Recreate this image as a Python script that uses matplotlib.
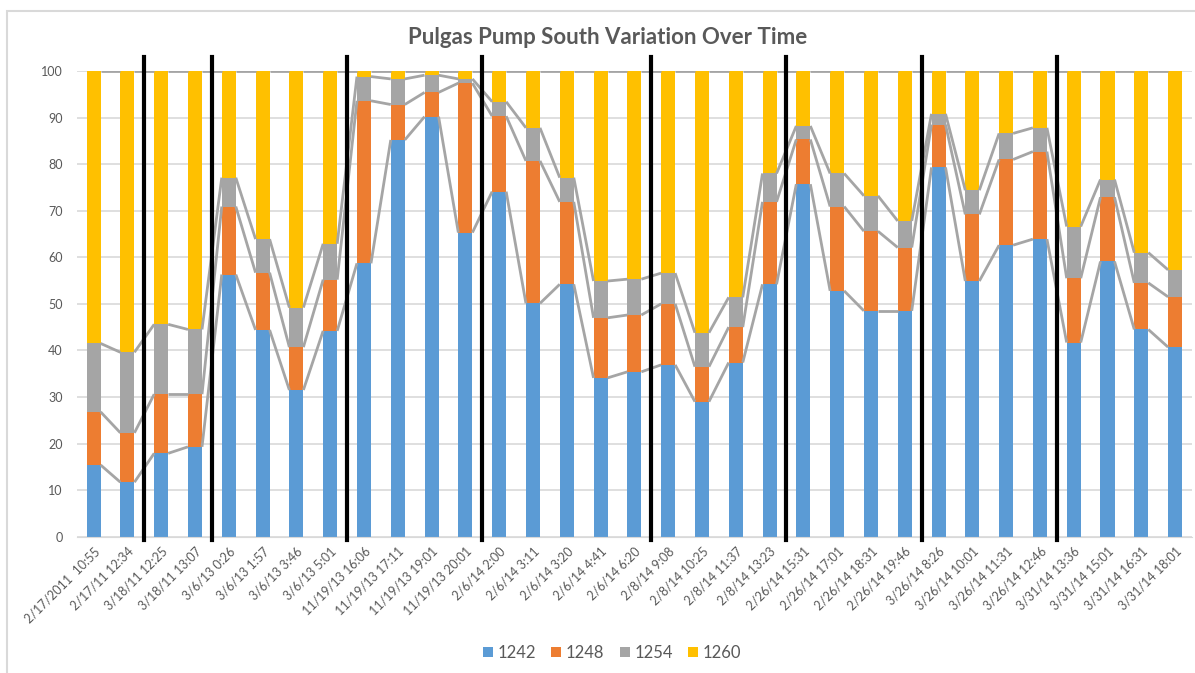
import matplotlib
matplotlib.use("Agg")
import matplotlib.pyplot as plt
import numpy as np
from matplotlib.patches import Rectangle, Patch

labels = ["2/17/2011  10:55", "2/17/11 12:34", "3/18/11 12:25", "3/18/11 13:07",
          "3/6/13 0:26", "3/6/13 1:57", "3/6/13 3:46", "3/6/13 5:01",
          "11/19/13 16:06", "11/19/13 17:11", "11/19/13 19:01", "11/19/13 20:01",
          "2/6/14 2:00", "2/6/14 3:11", "2/6/14 3:20", "2/6/14 4:41", "2/6/14 6:20",
          "2/8/14 9:08", "2/8/14 10:25", "2/8/14 11:37", "2/8/14 13:23",
          "2/26/14 15:31", "2/26/14 17:01", "2/26/14 18:31", "2/26/14 19:46",
          "3/26/14 8:26", "3/26/14 10:01", "3/26/14 11:31", "3/26/14 12:46",
          "3/31/14 13:36", "3/31/14 15:01", "3/31/14 16:31", "3/31/14 18:01"]

s1242 = [15.4, 11.7, 17.9, 19.3, 56.3, 44.4, 31.5, 44.2, 58.7, 85.2, 90.2, 65.3,
         74.1, 50.1, 54.2, 34.1, 35.4, 36.9, 29.0, 37.4, 54.2, 75.7, 52.8, 48.5,
         48.5, 79.3, 54.9, 62.6, 63.9, 41.7, 59.1, 44.5, 40.7]
s1248 = [11.4, 10.6, 12.7, 11.3, 14.6, 12.3, 9.2, 11.0, 34.9, 7.6, 5.2, 32.1,
         16.2, 30.6, 17.7, 12.9, 12.2, 13.1, 7.5, 7.6, 17.7, 9.6, 18.1, 17.1,
         13.6, 9.2, 14.3, 18.4, 18.8, 13.8, 13.8, 10.0, 10.8]
s1254 = [14.7, 17.3, 15.0, 13.9, 6.2, 7.2, 8.5, 7.7, 5.2, 5.5, 3.7, 0.9,
         3.1, 7.1, 5.2, 7.9, 7.7, 6.6, 7.3, 6.4, 6.1, 2.9, 7.1, 7.6,
         5.7, 2.3, 5.2, 5.6, 5.1, 11.1, 3.8, 6.5, 5.8]
s1260 = [58.5, 60.4, 54.4, 55.5, 22.9, 36.1, 50.8, 37.1, 1.2, 1.7, 0.9, 1.7,
         6.6, 12.2, 22.9, 45.1, 44.7, 43.4, 56.2, 48.6, 22.0, 11.8, 22.0, 26.8,
         32.2, 9.2, 25.6, 13.4, 12.2, 33.4, 23.3, 39.0, 42.7]
series_names = ["1242", "1248", "1254", "1260"]
group_sizes = [2, 2, 4, 4, 5, 4, 4, 4, 4]

colors = ["#5B9BD5", "#ED7D31", "#A5A5A5", "#FFC000"]
text_color = "#595959"
font = "Lato"

W, H = 1195, 673
fig = plt.figure(figsize=(W / 100, H / 100), dpi=100)

# chart border (top and left visible; right/bottom cropped)
fig.patches.append(Rectangle((7 / W, -0.1), 1.2, (H - 11) / H + 0.1,
                             transform=fig.transFigure, fill=False,
                             edgecolor="#D9D9D9", linewidth=1.5))

left, right = 76.7, 1192.0
y0, y100 = 536.7, 71.0
ax = fig.add_axes([left / W, (H - y0) / H, (right - left) / W, (y0 - y100) / H])

n = len(labels)
x = np.arange(n)
data = [np.array(s1242), np.array(s1248), np.array(s1254), np.array(s1260)]
bw = 0.415
bottom = np.zeros(n)
tops = []
for vals, c, name in zip(data, colors, series_names):
    ax.bar(x, vals, bw, bottom=bottom, color=c, label=name, zorder=2)
    bottom = bottom + vals
    tops.append(bottom.copy())

# series lines
for t in tops:
    for i in range(n - 1):
        ax.plot([x[i] + bw / 2, x[i + 1] - bw / 2], [t[i], t[i + 1]],
                color="#A5A5A5", lw=2.0, zorder=3, solid_capstyle="butt")

# group separators
edges = np.cumsum(group_sizes)[:-1] - 0.5
for e in edges:
    ax.plot([e, e], [-0.8, 103], color="black", lw=3.0, zorder=4, clip_on=False)

ax.set_xlim(-0.5, n - 0.5)
ax.set_ylim(0, 100)
ax.set_yticks(range(0, 101, 10))
ax.yaxis.grid(True, color="#D9D9D9", lw=1.2, zorder=0)
ax.set_axisbelow(True)
for s in ["top", "right", "left"]:
    ax.spines[s].set_visible(False)
ax.spines["bottom"].set_color("#D9D9D9")
ax.tick_params(axis="both", length=0, colors=text_color)
ax.tick_params(axis="y", pad=10)
for lab in ax.get_yticklabels():
    lab.set_fontfamily(font)
    lab.set_fontsize(9)
ax.set_xticks(x)
ax.set_xticklabels(labels, rotation=45, ha="right", rotation_mode="anchor",
                   fontsize=9, fontfamily=font, color=text_color)
ax.tick_params(axis="x", pad=6)

fig.text(608 / W, 1 - 38 / H, "Pulgas Pump South Variation Over Time",
         ha="center", va="center", fontsize=16, fontweight="bold",
         fontfamily=font, color=text_color)

handles = [Patch(facecolor=c, label=nm) for c, nm in zip(colors, series_names)]
leg = fig.legend(handles=handles, loc="center", bbox_to_anchor=(612 / W, 1 - 653 / H),
                 ncol=4, frameon=False, handlelength=0.6, handleheight=0.6,
                 handletextpad=0.3, columnspacing=0.9,
                 prop={"family": font, "size": 12})
for t in leg.get_texts():
    t.set_color(text_color)

fig.savefig("out.png", dpi=100)
